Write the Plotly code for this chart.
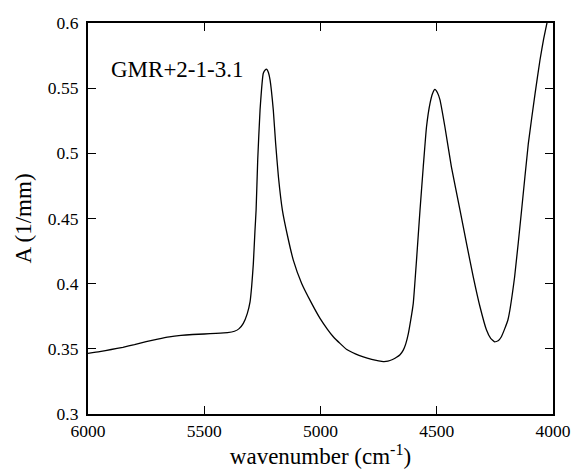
import plotly.graph_objects as go

# wavenumber (cm^-1) and absorbance (1/mm)
wavenumber = [6000, 5950, 5900, 5850, 5800, 5750, 5700, 5650, 5600, 5550, 5500,
              5450, 5400, 5370, 5350, 5332, 5315, 5303, 5296, 5289, 5282, 5277,
              5270, 5260, 5246, 5238, 5231, 5224, 5217, 5203, 5193, 5181, 5164,
              5141, 5117, 5081, 5038, 5002, 4970, 4945, 4915, 4887, 4850, 4816,
              4780, 4750, 4730, 4710, 4690, 4673, 4658, 4644, 4633, 4622, 4612,
              4601, 4587, 4572, 4558, 4544, 4529, 4518, 4508, 4497, 4486, 4465,
              4437, 4400, 4372, 4343, 4314, 4286, 4268, 4251, 4236, 4222, 4194,
              4165, 4135, 4106, 4077, 4056, 4040, 4026, 4015]
absorbance = [0.3465, 0.3478, 0.3495, 0.3512, 0.3532, 0.3555, 0.3575, 0.3592, 0.3603, 0.3610, 0.3614,
              0.3618, 0.3624, 0.3635, 0.3655, 0.3695, 0.3770, 0.3860, 0.3980, 0.4150, 0.4400, 0.4565,
              0.4950, 0.5332, 0.5614, 0.5640, 0.5645, 0.5620, 0.5563, 0.5332, 0.5077, 0.4820, 0.4565,
              0.4360, 0.4181, 0.4002, 0.3849, 0.3734, 0.3650, 0.3593, 0.3540, 0.3495, 0.3462, 0.3439,
              0.3420, 0.3408, 0.3402, 0.3405, 0.3418, 0.3435, 0.3455, 0.3490, 0.3540, 0.3619, 0.3720,
              0.3849, 0.4181, 0.4565, 0.4897, 0.5204, 0.5384, 0.5460, 0.5490, 0.5465, 0.5410, 0.5204,
              0.4897, 0.4565, 0.4309, 0.4053, 0.3823, 0.3644, 0.3580, 0.3554, 0.3562, 0.3593, 0.3721,
              0.4053, 0.4565, 0.5077, 0.5460, 0.5716, 0.5880, 0.6000, 0.6100]

sample_label = "GMR+2-1-3.1"
x_ticks = [6000, 5500, 5000, 4500, 4000]
y_ticks = [0.3, 0.35, 0.4, 0.45, 0.5, 0.55, 0.6]

FONT = "Liberation Serif"

fig = go.Figure()
fig.add_trace(go.Scatter(
    x=wavenumber, y=absorbance, mode="lines",
    line=dict(color="black", width=1.3, shape="spline", smoothing=0.4),
    hoverinfo="skip", showlegend=False, cliponaxis=True,
))

axis_common = dict(
    showline=True, linecolor="black", linewidth=1.5, mirror="ticks",
    ticks="inside", ticklen=8, tickwidth=1.2, tickcolor="black",
    showgrid=False, zeroline=False,
    tickfont=dict(family=FONT, size=17.5, color="black"),
)

fig.update_xaxes(
    range=[6000, 4000], tickvals=x_ticks, ticktext=[str(v) for v in x_ticks],
    title=dict(text="wavenumber (cm<sup>-1</sup>)", font=dict(family=FONT, size=23, color="black"), standoff=2),
    **axis_common,
)
fig.update_yaxes(
    range=[0.3, 0.6], tickvals=y_ticks, ticktext=[f"{v:g}\u00a0" for v in y_ticks],
    title=dict(text="A (1/mm)", font=dict(family=FONT, size=23, color="black"), standoff=10),
    **axis_common,
)

fig.add_annotation(
    x=5910, y=0.5647, xref="x", yref="y", text=sample_label, showarrow=False,
    xanchor="left", yanchor="middle",
    font=dict(family=FONT, size=23, color="black"),
)

fig.update_layout(
    width=574, height=473,
    font=dict(family=FONT, color="black"),
    margin=dict(l=88, r=21, t=23, b=59, autoexpand=False),
    paper_bgcolor="white", plot_bgcolor="white",
)

fig.write_html(
    "out.html",
    config={"displayModeBar": False},
    post_script="document.body.style.margin='0';document.body.style.overflow='hidden';",
)
